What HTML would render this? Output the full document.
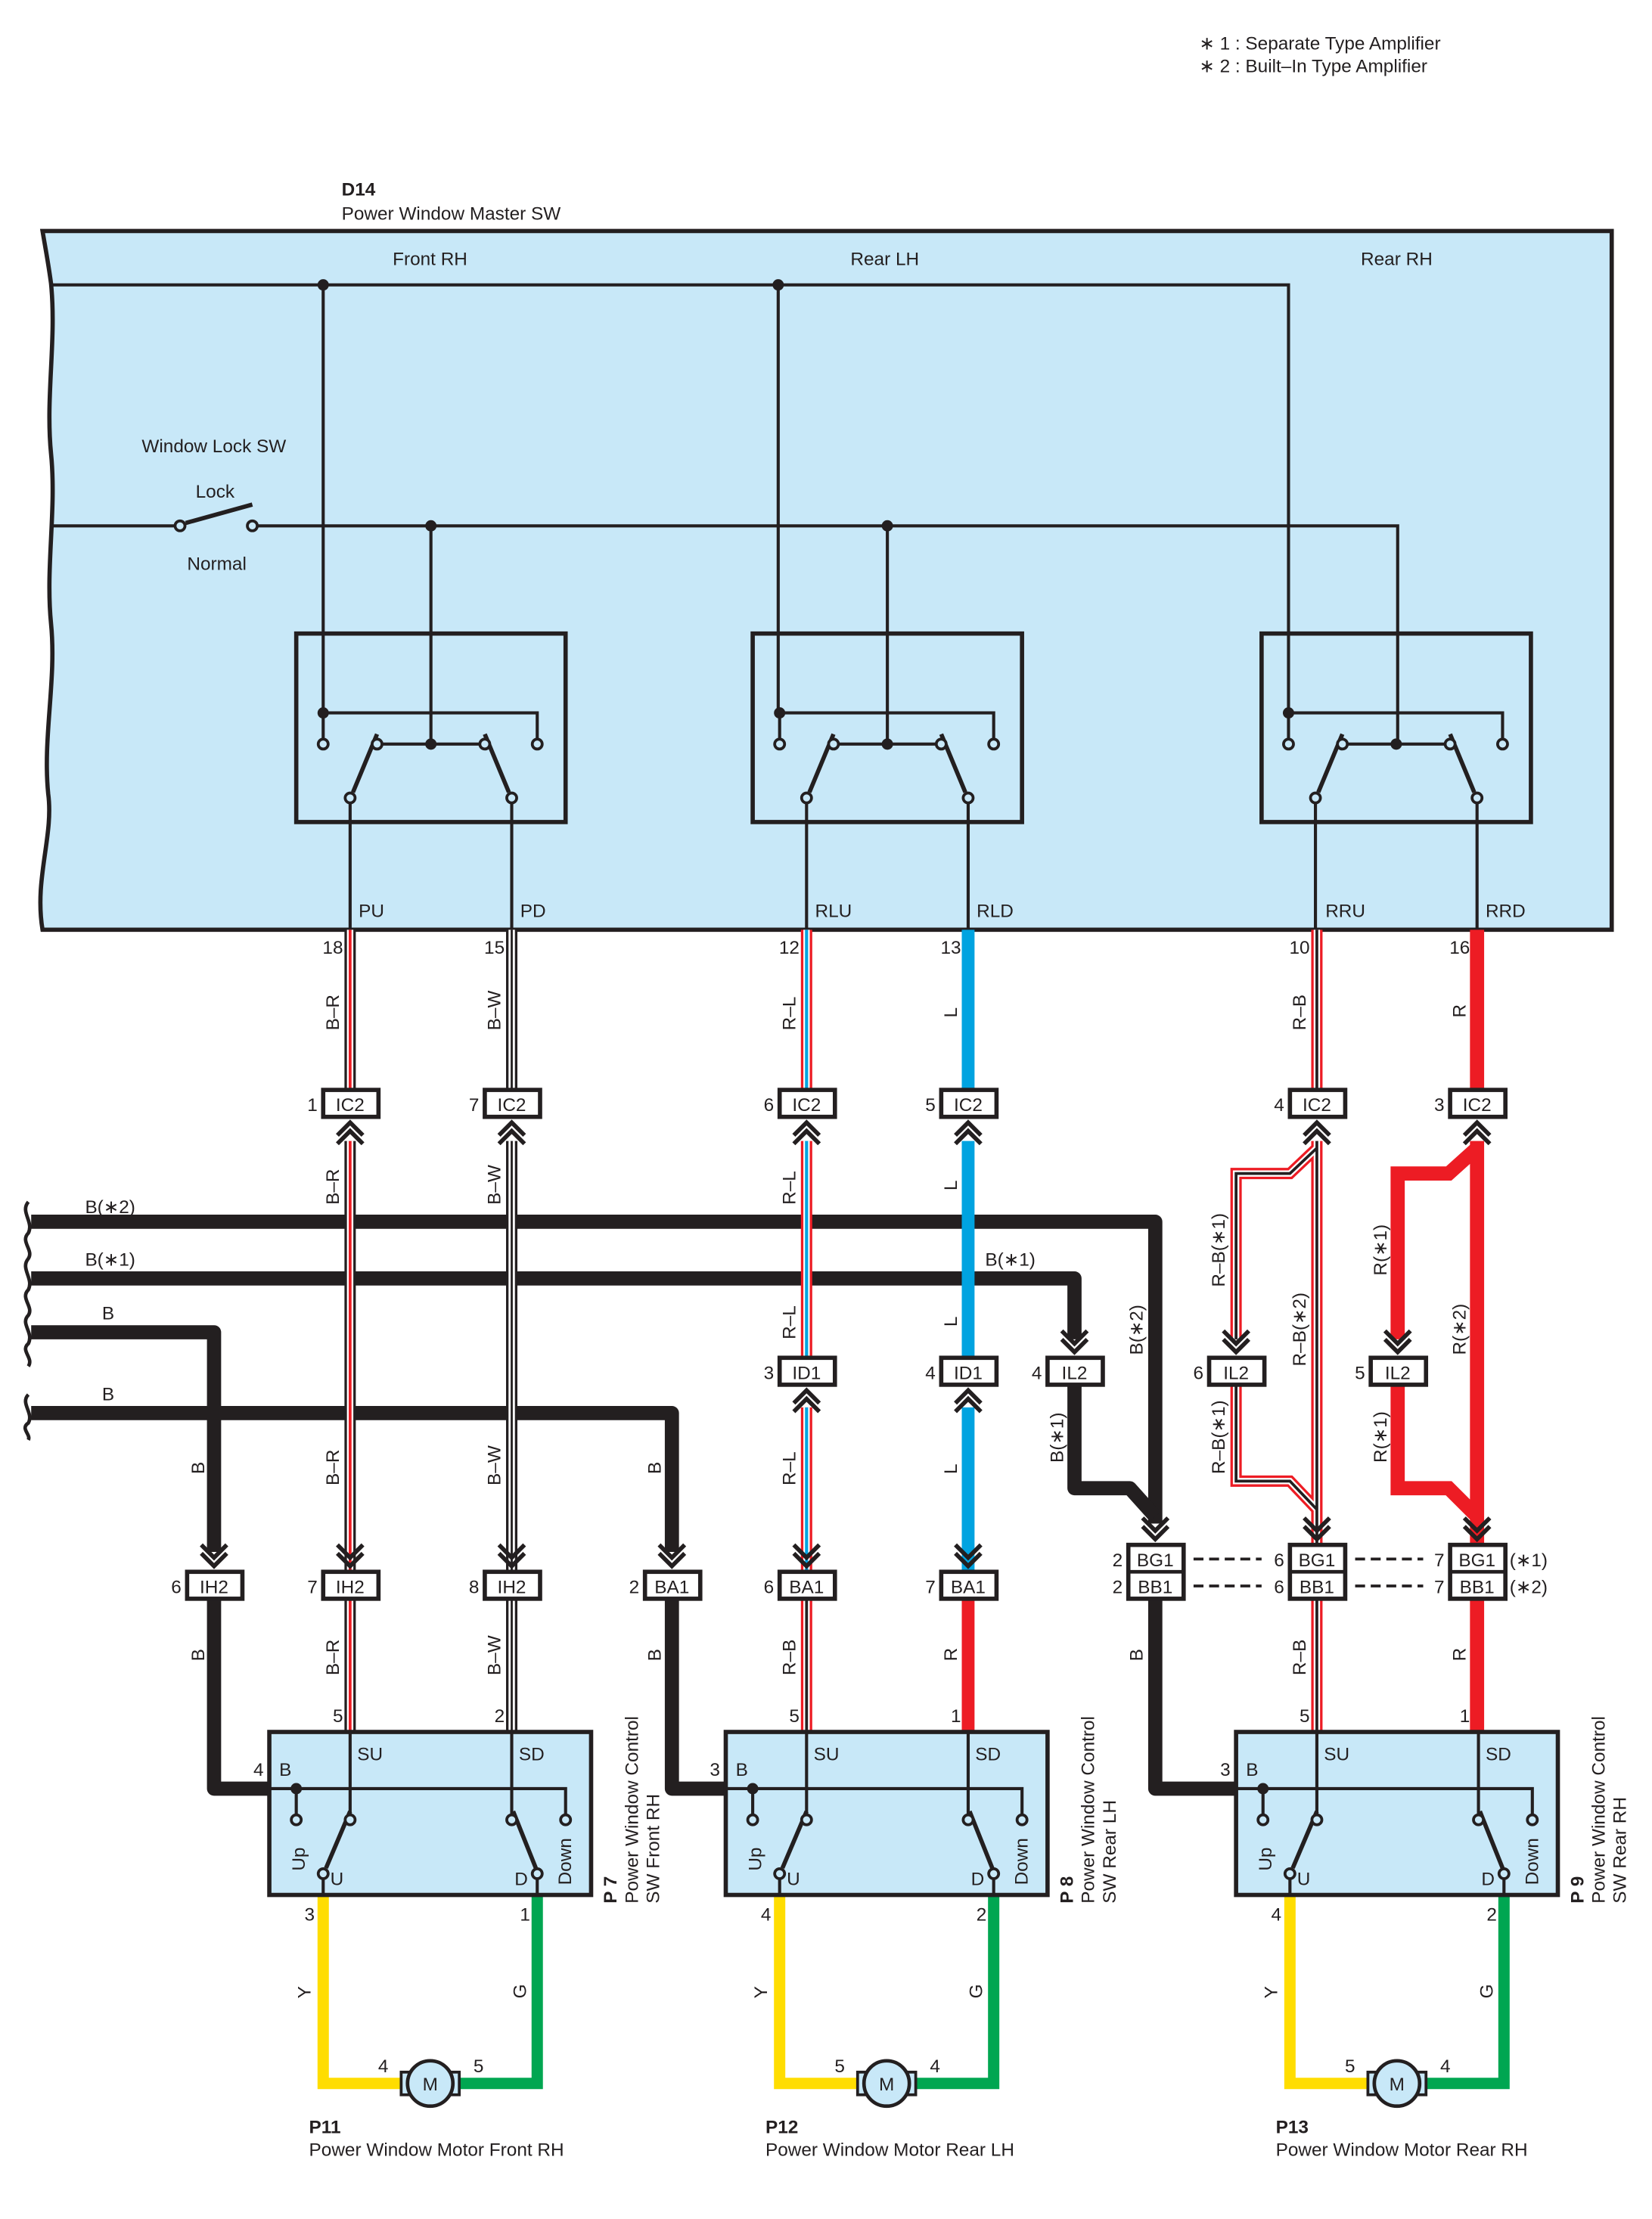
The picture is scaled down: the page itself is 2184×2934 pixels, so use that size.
<!DOCTYPE html>
<html><head><meta charset="utf-8"><style>
html,body{margin:0;padding:0;background:#fff}
svg{display:block}
text{font-family:"Liberation Sans",sans-serif;font-size:13px;fill:#231f20}
</style></head><body>
<svg width="2184" height="2934" viewBox="0 0 2184 2934" xmlns="http://www.w3.org/2000/svg">
<defs>
<g id="cu" fill="none" stroke="#231f20" stroke-width="3"><path d="M-9,13 L0,4 L9,13 M-9,19 L0,10 L9,19"/></g>
<g id="cd" fill="none" stroke="#231f20" stroke-width="3"><path d="M-9,-13 L0,-4 L9,-13 M-9,-19 L0,-10 L9,-19"/></g>
</defs>
<g transform="scale(1.874)">
<!-- notes -->
<text x="846" y="35">∗ 1 : Separate Type Amplifier</text>
<text x="846" y="51">∗ 2 : Built–In Type Amplifier</text>
<text x="241" y="138" font-weight="bold">D14</text>
<text x="241" y="155">Power Window Master SW</text>

<!-- master box -->
<path d="M30,163 L1137,163 L1137,656 L30,656 C24,620 38,590 34,560 C30,520 40,480 36,440 C32,400 40,360 36,320 C32,280 40,240 36,200 C34,185 32,175 30,163 Z" fill="#c8e8f8" stroke="#231f20" stroke-width="3"/>
<text x="277" y="187">Front RH</text>
<text x="600" y="187">Rear LH</text>
<text x="960" y="187">Rear RH</text>
<text x="100" y="319">Window Lock SW</text>
<text x="138" y="351">Lock</text>
<text x="132" y="402">Normal</text>

<g stroke="#231f20" stroke-width="2.2" fill="none">
<path d="M36,201 L909,201 L909,503"/>
<path d="M228,201 L228,503 M549,201 L549,503"/>
<path d="M36,371 L124,371 M181,371 L986,371 L986,525 M304,371 L304,525 M626,371 L626,525"/>
<path d="M131,369 L178,356" stroke-width="3"/>
</g>
<g fill="#c8e8f8" stroke="#231f20" stroke-width="2"><circle cx="127" cy="371" r="3.5"/><circle cx="178" cy="371" r="3.5"/></g>
<g fill="#231f20"><circle cx="228" cy="201" r="4"/><circle cx="549" cy="201" r="4"/><circle cx="304" cy="371" r="4"/><circle cx="626" cy="371" r="4"/></g>

<!-- master switch boxes -->
<g id="msw">
<rect x="209" y="447" width="190" height="133" fill="none" stroke="#231f20" stroke-width="3"/>
<g stroke="#231f20" stroke-width="2.2" fill="none">
<path d="M228,503 L379,503 L379,521 M228,503 L228,521 M270,525 L338,525"/>
<path d="M247,567 L247,656 M361,567 L361,656"/>
<path d="M249,559 L266,518 M359,559 L342,518" stroke-width="3"/>
</g>
<g fill="#c8e8f8" stroke="#231f20" stroke-width="2">
<circle cx="228" cy="525" r="3.5"/><circle cx="379" cy="525" r="3.5"/><circle cx="266" cy="525" r="3.5"/><circle cx="342" cy="525" r="3.5"/><circle cx="247" cy="563" r="3.5"/><circle cx="361" cy="563" r="3.5"/></g>
<g fill="#231f20"><circle cx="228" cy="503" r="4"/><circle cx="304" cy="525" r="4"/></g>
</g>
<use href="#msw" transform="translate(322,0)"/>
<use href="#msw" transform="translate(681,0)"/>
<text x="253" y="647">PU</text><text x="367" y="647">PD</text>
<text x="575" y="647">RLU</text><text x="689" y="647">RLD</text>
<text x="935" y="647">RRU</text><text x="1048" y="647">RRD</text>

<!-- ground buses -->
<g stroke="#231f20" stroke-width="10" fill="none" stroke-linejoin="round">
<path d="M22,862 L815,862 L815,1075"/>
<path d="M22,902 L758,902 L758,945"/>
<path d="M22,940 L151,940 L151,1095"/>
<path d="M22,997 L474,997 L474,1095"/>
<path d="M758,977 L758,1050 L797,1050 L815,1070"/>
<path d="M151,1128 L151,1262 L190,1262"/>
<path d="M474,1128 L474,1262 L512,1262"/>
<path d="M815,1128 L815,1262 L872,1262"/>
</g>
<g stroke="#231f20" stroke-width="2.5" fill="none">
<path d="M20,848 C14,855 24,862 20,870 C14,876 24,882 20,888 C14,895 24,902 20,910 C14,916 24,922 20,928 C14,934 24,940 20,948 C14,953 24,958 20,964"/>
<path d="M20,984 C14,990 24,997 20,1004 C14,1008 22,1012 20,1016"/>
</g>
<text x="60" y="856">B(∗2)</text><text x="60" y="893">B(∗1)</text>
<text x="72" y="931">B</text><text x="72" y="988">B</text>
<text x="695" y="893">B(∗1)</text>

<!-- stripe wires -->
<g fill="none" stroke-linejoin="miter">
<g><path d="M247,656 V769 M247,805 V1109 M247,1128 V1222" stroke="#231f20" stroke-width="8"/><path d="M247,656 V769 M247,805 V1109 M247,1128 V1222" stroke="#fff" stroke-width="4.5"/><path d="M247,656 V769 M247,805 V1109 M247,1128 V1222" stroke="#ed1c24" stroke-width="2"/></g>
<g><path d="M361,656 V769 M361,805 V1109 M361,1128 V1222" stroke="#231f20" stroke-width="8"/><path d="M361,656 V769 M361,805 V1109 M361,1128 V1222" stroke="#fff" stroke-width="4.5"/><path d="M361,656 V769 M361,805 V1109 M361,1128 V1222" stroke="#231f20" stroke-width="1.5"/></g>
<g><path d="M569,656 V769 M569,805 V958 M569,993 V1109" stroke="#ed1c24" stroke-width="8"/><path d="M569,656 V769 M569,805 V958 M569,993 V1109" stroke="#fff" stroke-width="4.5"/><path d="M569,656 V769 M569,805 V958 M569,993 V1109" stroke="#00a3e0" stroke-width="2.2"/></g>
<g><path d="M569,1128 V1222" stroke="#ed1c24" stroke-width="8"/><path d="M569,1128 V1222" stroke="#fff" stroke-width="4.5"/><path d="M569,1128 V1222" stroke="#231f20" stroke-width="2"/></g>
<path d="M683,656 V769 M683,805 V958 M683,993 V1109" stroke="#00a3e0" stroke-width="9"/>
<path d="M683,1128 V1222" stroke="#ed1c24" stroke-width="9"/>
<g><path d="M929,656 V769 M929,805 V1090 M929,1128 V1222 M929,810 L910,828 L872,828 L872,945 M872,977 L872,1045 L910,1045 L929,1065" stroke="#ed1c24" stroke-width="8"/><path d="M929,656 V769 M929,805 V1090 M929,1128 V1222 M929,810 L910,828 L872,828 L872,945 M872,977 L872,1045 L910,1045 L929,1065" stroke="#fff" stroke-width="4.5"/><path d="M929,656 V769 M929,805 V1090 M929,1128 V1222 M929,810 L910,828 L872,828 L872,945 M872,977 L872,1045 L910,1045 L929,1065" stroke="#231f20" stroke-width="2"/></g>
<path d="M1042,656 V769 M1042,805 V1090 M1042,1128 V1222 M1042,810 L1022,828 L986,828 L986,945 M986,977 L986,1050 L1022,1050 L1042,1070" stroke="#ed1c24" stroke-width="10"/>
</g>

<g text-anchor="end">
<text x="242" y="673">18</text><text x="356" y="673">15</text><text x="564" y="673">12</text><text x="678" y="673">13</text><text x="924" y="673">10</text><text x="1037" y="673">16</text>
</g>

<g>
<text transform="translate(239,727) rotate(-90)">B–R</text>
<text transform="translate(353,727) rotate(-90)">B–W</text>
<text transform="translate(561,727) rotate(-90)">R–L</text>
<text transform="translate(675,718) rotate(-90)">L</text>
<text transform="translate(921,727) rotate(-90)">R–B</text>
<text transform="translate(1034,718) rotate(-90)">R</text>
<text transform="translate(239,850) rotate(-90)">B–R</text>
<text transform="translate(353,850) rotate(-90)">B–W</text>
<text transform="translate(561,850) rotate(-90)">R–L</text>
<text transform="translate(675,840) rotate(-90)">L</text>
<text transform="translate(561,945) rotate(-90)">R–L</text>
<text transform="translate(675,936) rotate(-90)">L</text>
<text transform="translate(144,1040) rotate(-90)">B</text>
<text transform="translate(239,1048) rotate(-90)">B–R</text>
<text transform="translate(353,1048) rotate(-90)">B–W</text>
<text transform="translate(466,1040) rotate(-90)">B</text>
<text transform="translate(561,1048) rotate(-90)">R–L</text>
<text transform="translate(675,1040) rotate(-90)">L</text>
<text transform="translate(806,956) rotate(-90)">B(∗2)</text>
<text transform="translate(750,1032) rotate(-90)">B(∗1)</text>
<text transform="translate(864,908) rotate(-90)">R–B(∗1)</text>
<text transform="translate(921,964) rotate(-90)">R–B(∗2)</text>
<text transform="translate(864,1040) rotate(-90)">R–B(∗1)</text>
<text transform="translate(978,900) rotate(-90)">R(∗1)</text>
<text transform="translate(1034,956) rotate(-90)">R(∗2)</text>
<text transform="translate(978,1032) rotate(-90)">R(∗1)</text>
<text transform="translate(144,1172) rotate(-90)">B</text>
<text transform="translate(239,1182) rotate(-90)">B–R</text>
<text transform="translate(353,1182) rotate(-90)">B–W</text>
<text transform="translate(466,1172) rotate(-90)">B</text>
<text transform="translate(561,1182) rotate(-90)">R–B</text>
<text transform="translate(675,1172) rotate(-90)">R</text>
<text transform="translate(806,1172) rotate(-90)">B</text>
<text transform="translate(921,1182) rotate(-90)">R–B</text>
<text transform="translate(1034,1172) rotate(-90)">R</text>
</g>

<g fill="#fff" stroke="#231f20" stroke-width="3">
<rect x="228" y="769" width="39" height="19"/><rect x="342" y="769" width="39" height="19"/><rect x="550" y="769" width="39" height="19"/><rect x="664" y="769" width="39" height="19"/><rect x="910" y="769" width="39" height="19"/><rect x="1023" y="769" width="39" height="19"/>
<rect x="550" y="958" width="39" height="19"/><rect x="664" y="958" width="39" height="19"/>
<rect x="739" y="958" width="39" height="19"/><rect x="853" y="958" width="39" height="19"/><rect x="967" y="958" width="39" height="19"/>
<rect x="132" y="1109" width="39" height="19"/><rect x="228" y="1109" width="39" height="19"/><rect x="342" y="1109" width="39" height="19"/><rect x="455" y="1109" width="39" height="19"/><rect x="550" y="1109" width="39" height="19"/><rect x="664" y="1109" width="39" height="19"/>
<rect x="796" y="1090" width="39" height="38"/><rect x="910" y="1090" width="39" height="38"/><rect x="1023" y="1090" width="39" height="38"/>
</g>
<g stroke="#231f20" stroke-width="2.5"><path d="M796,1109 H835 M910,1109 H949 M1023,1109 H1062"/></g>
<g stroke="#231f20" stroke-width="2" stroke-dasharray="7,4"><path d="M842,1100 H890 M842,1119 H890 M956,1100 H1004 M956,1119 H1004"/></g>
<g text-anchor="middle">
<text x="247" y="784">IC2</text><text x="361" y="784">IC2</text><text x="569" y="784">IC2</text><text x="683" y="784">IC2</text><text x="929" y="784">IC2</text><text x="1042" y="784">IC2</text>
<text x="569" y="973">ID1</text><text x="683" y="973">ID1</text>
<text x="758" y="973">IL2</text><text x="872" y="973">IL2</text><text x="986" y="973">IL2</text>
<text x="151" y="1124">IH2</text><text x="247" y="1124">IH2</text><text x="361" y="1124">IH2</text><text x="474" y="1124">BA1</text><text x="569" y="1124">BA1</text><text x="683" y="1124">BA1</text>
<text x="815" y="1105">BG1</text><text x="929" y="1105">BG1</text><text x="1042" y="1105">BG1</text>
<text x="815" y="1124">BB1</text><text x="929" y="1124">BB1</text><text x="1042" y="1124">BB1</text>
</g>
<g text-anchor="end">
<text x="224" y="784">1</text><text x="338" y="784">7</text><text x="546" y="784">6</text><text x="660" y="784">5</text><text x="906" y="784">4</text><text x="1019" y="784">3</text>
<text x="546" y="973">3</text><text x="660" y="973">4</text><text x="735" y="973">4</text><text x="849" y="973">6</text><text x="963" y="973">5</text>
<text x="128" y="1124">6</text><text x="224" y="1124">7</text><text x="338" y="1124">8</text><text x="451" y="1124">2</text><text x="546" y="1124">6</text><text x="660" y="1124">7</text>
<text x="792" y="1105">2</text><text x="906" y="1105">6</text><text x="1019" y="1105">7</text>
<text x="792" y="1124">2</text><text x="906" y="1124">6</text><text x="1019" y="1124">7</text>
</g>
<text x="1065" y="1105">(∗1)</text><text x="1065" y="1124">(∗2)</text>

<use href="#cu" x="247" y="788"/><use href="#cu" x="361" y="788"/><use href="#cu" x="569" y="788"/><use href="#cu" x="683" y="788"/><use href="#cu" x="929" y="788"/><use href="#cu" x="1042" y="788"/>
<use href="#cu" x="569" y="977"/><use href="#cu" x="683" y="977"/>
<use href="#cd" x="758" y="958"/><use href="#cd" x="872" y="958"/><use href="#cd" x="986" y="958"/>
<use href="#cd" x="151" y="1109"/><use href="#cd" x="247" y="1109"/><use href="#cd" x="361" y="1109"/><use href="#cd" x="474" y="1109"/><use href="#cd" x="569" y="1109"/><use href="#cd" x="683" y="1109"/>
<use href="#cd" x="815" y="1090"/><use href="#cd" x="929" y="1090"/><use href="#cd" x="1042" y="1090"/>

<g id="psw">
<path d="M228,1337 V1470 H285" fill="none" stroke="#ffdd00" stroke-width="8"/>
<path d="M379,1337 V1470 H322" fill="none" stroke="#00a651" stroke-width="8"/>
<rect x="190" y="1222" width="227" height="115" fill="#c8e8f8" stroke="#231f20" stroke-width="3"/>
<g stroke="#231f20" stroke-width="2.2" fill="none">
<path d="M190,1262 H399 V1280 M209,1262 V1280 M247,1222 V1280 M361,1222 V1280 M228,1326 V1337 M379,1326 V1337"/>
<path d="M230,1318 L247,1278 M362,1278 L378,1318" stroke-width="3"/>
</g>
<g fill="#c8e8f8" stroke="#231f20" stroke-width="2">
<circle cx="209" cy="1284" r="3.5"/><circle cx="247" cy="1284" r="3.5"/><circle cx="361" cy="1284" r="3.5"/><circle cx="399" cy="1284" r="3.5"/><circle cx="228" cy="1322" r="3.5"/><circle cx="379" cy="1322" r="3.5"/></g>
<circle cx="209" cy="1262" r="4" fill="#231f20"/>
<rect x="283" y="1462" width="6" height="16" fill="#c8e8f8" stroke="#231f20" stroke-width="2"/>
<rect x="318" y="1462" width="6" height="16" fill="#c8e8f8" stroke="#231f20" stroke-width="2"/>
<circle cx="303.5" cy="1470" r="16" fill="#c8e8f8" stroke="#231f20" stroke-width="2.5"/>
<text x="303.5" y="1475" text-anchor="middle">M</text>
<text x="197" y="1253">B</text><text x="252" y="1242">SU</text><text x="366" y="1242">SD</text>
<text x="233" y="1330">U</text><text x="363" y="1330">D</text>
<text transform="translate(215,1320) rotate(-90)">Up</text>
<text transform="translate(403,1330) rotate(-90)">Down</text>
<text transform="translate(219,1410) rotate(-90)">Y</text>
<text transform="translate(371,1410) rotate(-90)">G</text>
</g>
<use href="#psw" transform="translate(322,0)"/>
<use href="#psw" transform="translate(682,0)"/>

<g text-anchor="end">
<text x="242" y="1215">5</text><text x="356" y="1215">2</text>
<text x="564" y="1215">5</text><text x="678" y="1215">1</text>
<text x="924" y="1215">5</text><text x="1037" y="1215">1</text>
<text x="186" y="1253">4</text><text x="508" y="1253">3</text><text x="868" y="1253">3</text>
<text x="222" y="1355">3</text><text x="374" y="1355">1</text>
<text x="544" y="1355">4</text><text x="696" y="1355">2</text>
<text x="904" y="1355">4</text><text x="1056" y="1355">2</text>
<text x="274" y="1462">4</text><text x="596" y="1462">5</text><text x="956" y="1462">5</text>
</g>
<text x="334" y="1462">5</text><text x="656" y="1462">4</text><text x="1016" y="1462">4</text>

<text transform="translate(435,1343) rotate(-90)"><tspan font-weight="bold">P 7</tspan></text>
<text transform="translate(450,1343) rotate(-90)">Power Window Control</text>
<text transform="translate(465,1343) rotate(-90)">SW Front RH</text>
<text transform="translate(757,1343) rotate(-90)"><tspan font-weight="bold">P 8</tspan></text>
<text transform="translate(772,1343) rotate(-90)">Power Window Control</text>
<text transform="translate(787,1343) rotate(-90)">SW Rear LH</text>
<text transform="translate(1117,1343) rotate(-90)"><tspan font-weight="bold">P 9</tspan></text>
<text transform="translate(1132,1343) rotate(-90)">Power Window Control</text>
<text transform="translate(1147,1343) rotate(-90)">SW Rear RH</text>

<text x="218" y="1505" font-weight="bold">P11</text><text x="218" y="1521">Power Window Motor Front RH</text>
<text x="540" y="1505" font-weight="bold">P12</text><text x="540" y="1521">Power Window Motor Rear LH</text>
<text x="900" y="1505" font-weight="bold">P13</text><text x="900" y="1521">Power Window Motor Rear RH</text>
</g>
</svg>
</body></html>
